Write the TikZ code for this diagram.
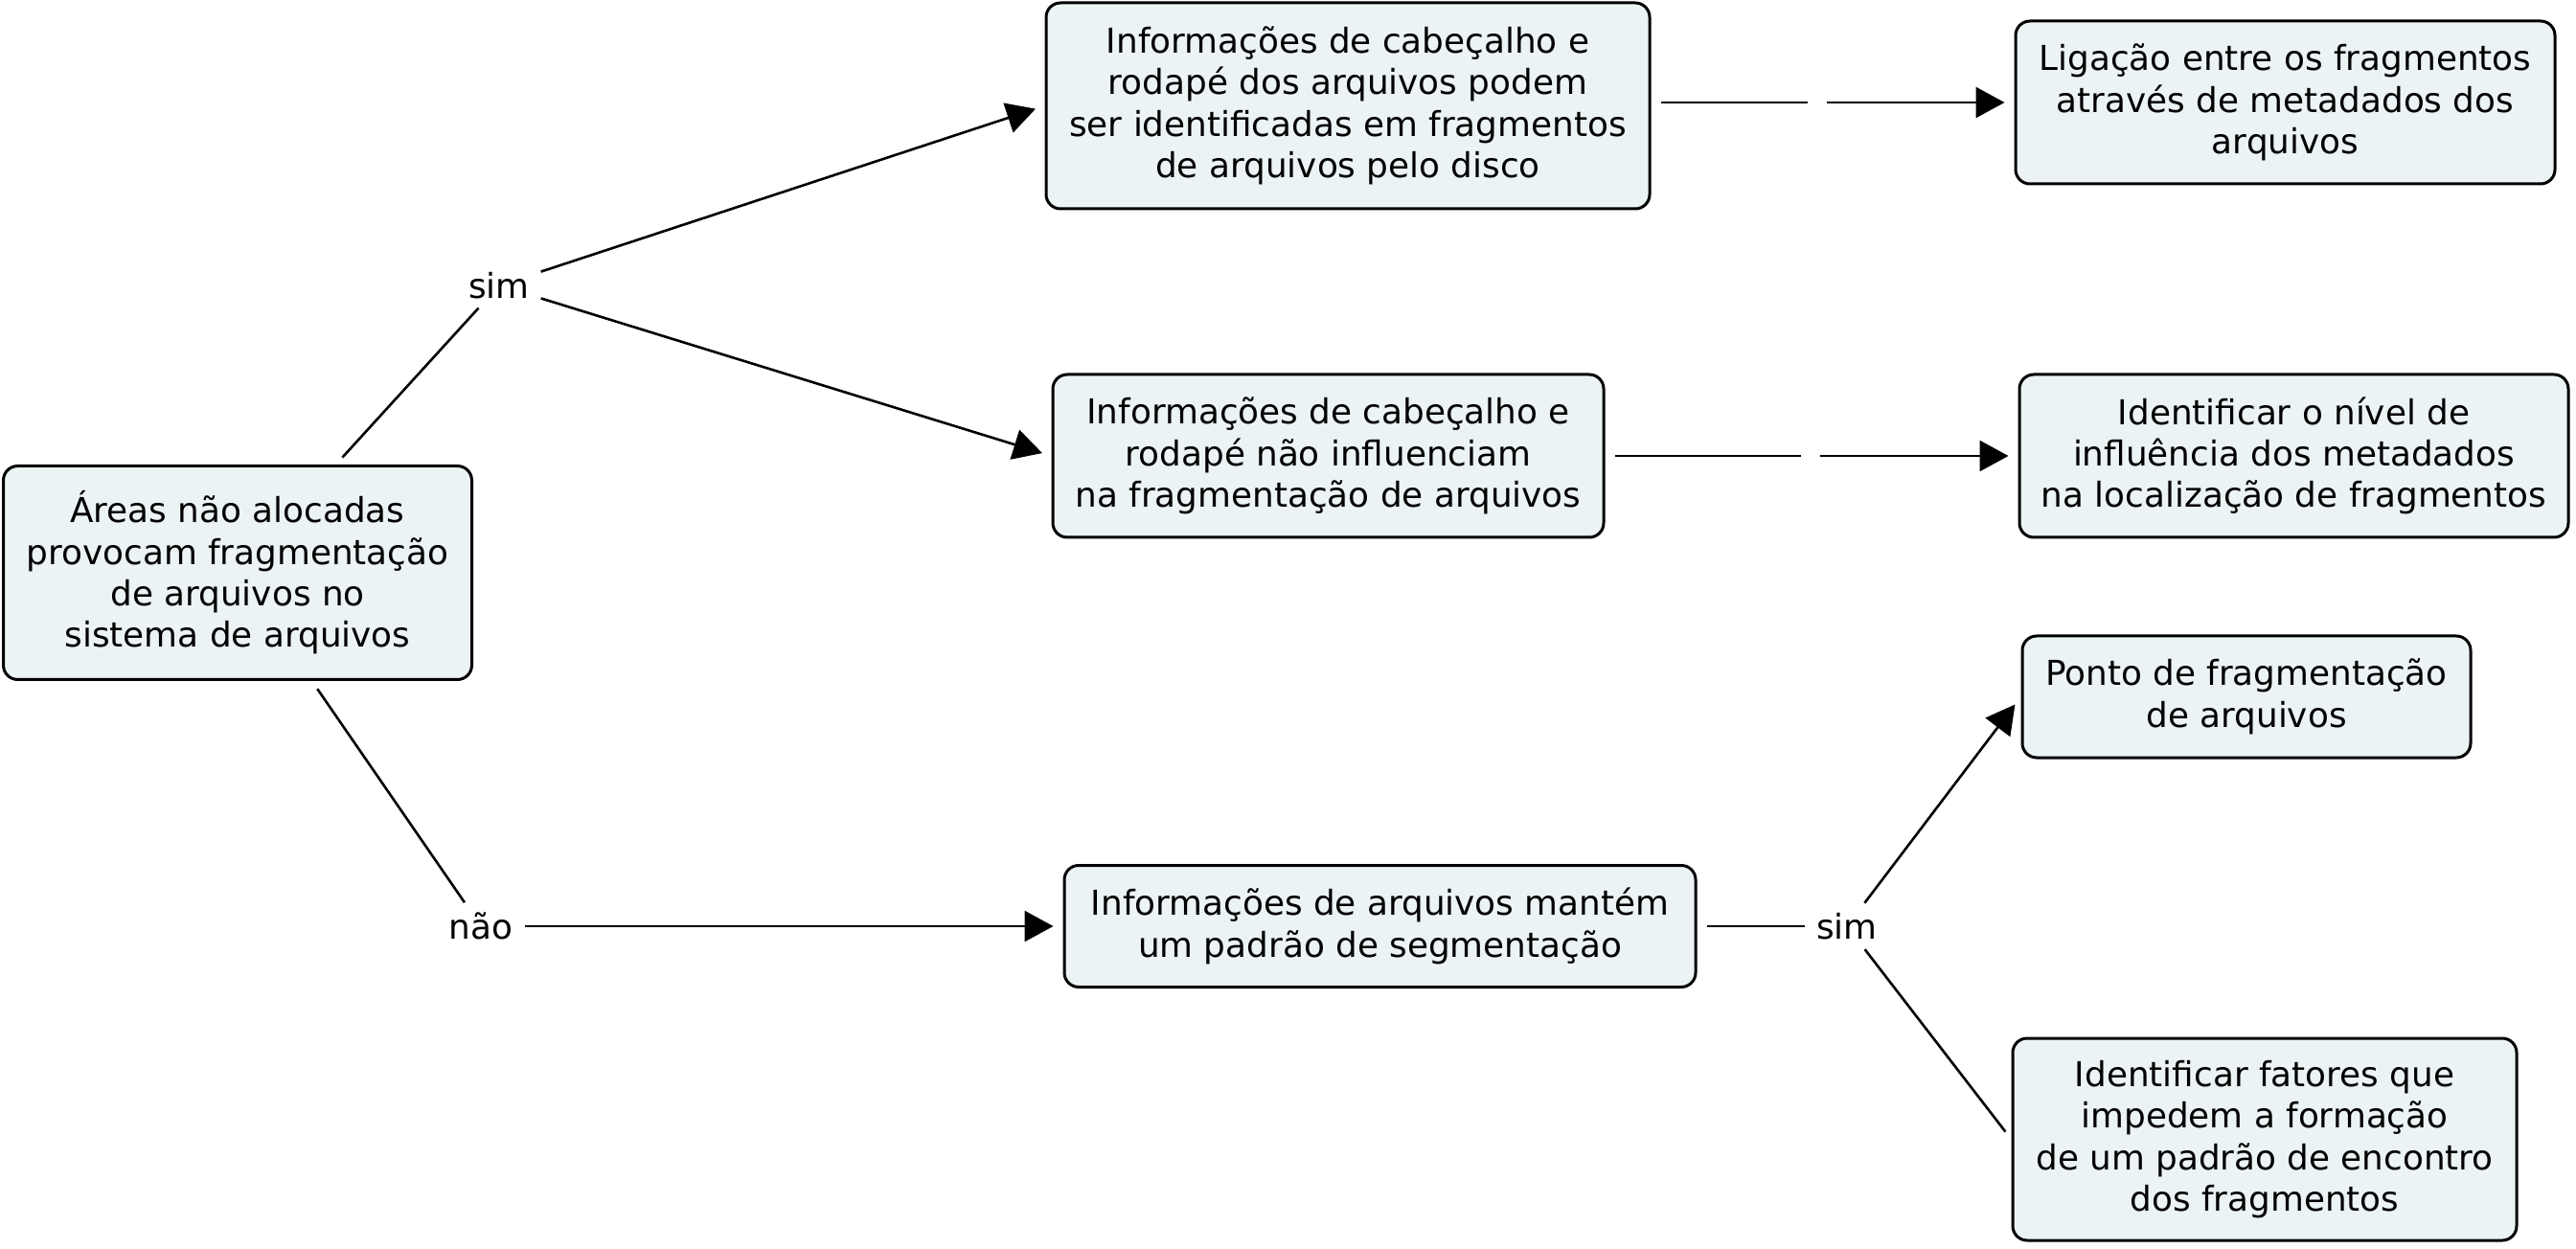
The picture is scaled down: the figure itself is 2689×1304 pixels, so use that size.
\documentclass[tikz,border=0pt]{standalone}
\usepackage{fontspec}
\setmainfont{DejaVu Sans}
\usetikzlibrary{arrows.meta}
\definecolor{boxfill}{RGB}{235,243,245}
\begin{document}
\begin{tikzpicture}[x=0.5pt,y=-0.5pt,
  box/.style={draw=black, line width=1.5pt, rounded corners=7.5pt, fill=boxfill, align=center, inner sep=0pt, font=\fontsize{17.9pt}{21.7pt}\selectfont},
  lbl/.style={inner sep=1pt, font=\fontsize{17.9pt}{21.7pt}\selectfont},
  conn/.style={line width=1.3pt, shorten <=5pt, shorten >=5pt},
  arr/.style={conn, -{Triangle[length=15pt,width=16pt]}}]
\useasboundingbox (0,0) rectangle (2689,1304);

\node[box, minimum width=244.5pt, minimum height=111.5pt] (A) at (248,598) {Áreas não alocadas\\provocam fragmentação\\de arquivos no\\sistema de arquivos};
\node[box, minimum width=315pt, minimum height=107.5pt] (B1) at (1407,110.5) {Informações de cabeçalho e\\rodapé dos arquivos podem\\ser identificadas em fragmentos\\de arquivos pelo disco};
\node[box, minimum width=281.5pt, minimum height=85pt] (B2) at (2385.5,107) {Ligação entre os fragmentos\\através de metadados dos\\arquivos};
\node[box, minimum width=287.5pt, minimum height=85pt] (C1) at (1386.5,476) {Informações de cabeçalho e\\rodapé não influenciam\\na fragmentação de arquivos};
\node[box, minimum width=286.5pt, minimum height=85pt] (C2) at (2394.5,476) {Identificar o nível de\\influência dos metadados\\na localização de fragmentos};
\node[box, minimum width=234pt, minimum height=63.5pt] (D1) at (2345,727.5) {Ponto de fragmentação\\de arquivos};
\node[box, minimum width=329.5pt, minimum height=63.5pt] (E) at (1440.5,967) {Informações de arquivos mantém\\um padrão de segmentação};
\node[box, minimum width=263pt, minimum height=105.5pt] (F) at (2364,1189.5) {Identificar fatores que\\impedem a formação\\de um padrão de encontro\\dos fragmentos};

\node[lbl] (sim1) at (521,298) {sim};
\node[lbl] (nao) at (502,967) {não};
\node[lbl] (sim2) at (1928,967) {sim};

\coordinate (g1) at (1897,107);
\coordinate (g2) at (1890,476);

\draw[conn] (A) -- (sim1);
\draw[arr] (sim1) -- (B1.west);
\draw[arr] (sim1) -- (C1.west);
\draw[conn] (A) -- (nao);
\draw[arr] (nao) -- (E);
\draw[conn] (B1.east |- g1) -- (g1);
\draw[arr] (g1) -- (B2);
\draw[conn] (C1) -- (g2);
\draw[arr] (g2) -- (C2);
\draw[conn] (E) -- (sim2);
\draw[arr] (sim2) -- (D1.west);
\draw[conn] (sim2) -- (F.west);
\end{tikzpicture}
\end{document}
